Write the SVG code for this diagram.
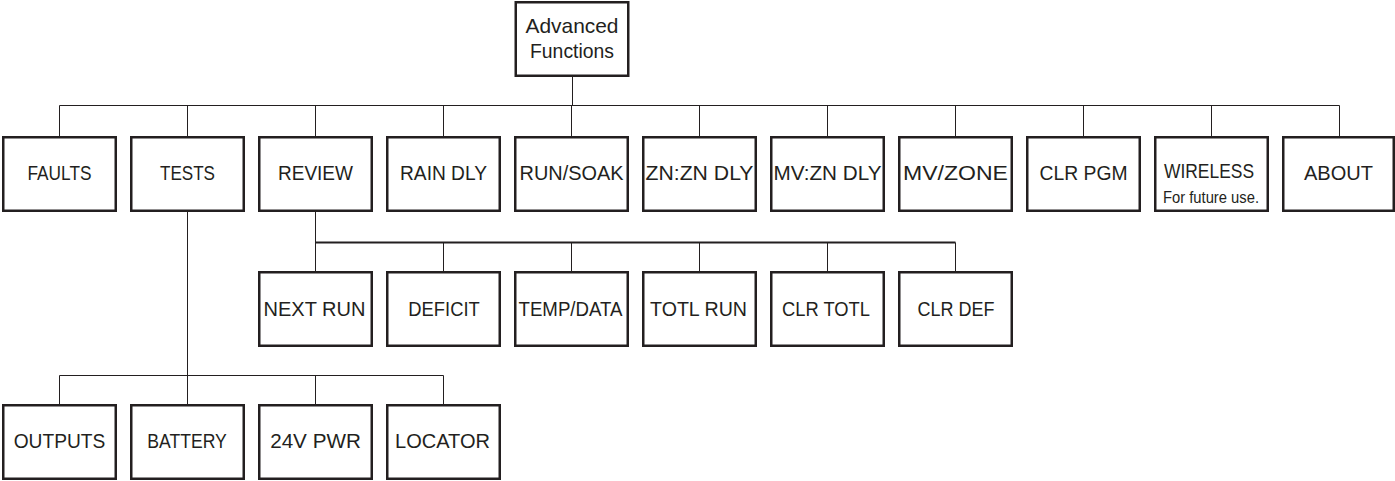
<svg xmlns="http://www.w3.org/2000/svg" width="1395" height="481" viewBox="0 0 1395 481">
<style>
.box{fill:#fff;stroke:#231f20;stroke-width:2.5}
.lbl{font-family:"Liberation Sans",Arial,sans-serif;font-size:21px;fill:#231f20;text-anchor:middle}
.sm{font-family:"Liberation Sans",Arial,sans-serif;font-size:16px;fill:#231f20;text-anchor:middle}
.ln{fill:none;stroke:#231f20;stroke-width:1}
.bus{fill:none;stroke:#231f20;stroke-width:2}
</style>
<rect width="1395" height="481" fill="#fff"/>
<g id="connectors">
<path class="ln" d="M572.5,77 V105.5 M59.5,105.5 H1339.5 M59.5,105.5 V136 M187.5,105.5 V136 M315.5,105.5 V136 M443.5,105.5 V136 M571.5,105.5 V136 M699.5,105.5 V136 M827.5,105.5 V136 M955.5,105.5 V136 M1083.5,105.5 V136 M1211.5,105.5 V136 M1339.5,105.5 V136"/>
<path class="ln" d="M187.5,212 V404 M59.5,375.5 H443.5 M59.5,375.5 V404 M315.5,375.5 V404 M443.5,375.5 V404"/>
<path class="ln" d="M315.5,212 V271 M443.5,242.5 V271 M571.5,242.5 V271 M699.5,242.5 V271 M827.5,242.5 V271 M955.5,242.5 V271"/>
<path class="bus" d="M315.5,242.5 H955.5"/>
</g>
<g id="advanced-functions"><rect class="box" x="515.75" y="2.25" width="112.5" height="73.5"/><text class="lbl" x="572" y="33.3" textLength="93" lengthAdjust="spacingAndGlyphs">Advanced</text><text class="lbl" x="572" y="57.7" textLength="84" lengthAdjust="spacingAndGlyphs">Functions</text></g>
<g id="faults"><rect class="box" x="3.25" y="137.25" width="112.5" height="73.5"/><text class="lbl" x="59.5" y="180" textLength="64" lengthAdjust="spacingAndGlyphs">FAULTS</text></g>
<g id="tests"><rect class="box" x="131.25" y="137.25" width="112.5" height="73.5"/><text class="lbl" x="187.5" y="180" textLength="55" lengthAdjust="spacingAndGlyphs">TESTS</text></g>
<g id="review"><rect class="box" x="259.25" y="137.25" width="112.5" height="73.5"/><text class="lbl" x="315.5" y="180" textLength="75" lengthAdjust="spacingAndGlyphs">REVIEW</text></g>
<g id="rain-dly"><rect class="box" x="387.25" y="137.25" width="112.5" height="73.5"/><text class="lbl" x="443.5" y="180" textLength="87" lengthAdjust="spacingAndGlyphs">RAIN DLY</text></g>
<g id="run-soak"><rect class="box" x="515.25" y="137.25" width="112.5" height="73.5"/><text class="lbl" x="571.5" y="180" textLength="104" lengthAdjust="spacingAndGlyphs">RUN/SOAK</text></g>
<g id="zn-zn-dly"><rect class="box" x="643.25" y="137.25" width="112.5" height="73.5"/><text class="lbl" x="699.5" y="180" textLength="108" lengthAdjust="spacingAndGlyphs">ZN:ZN DLY</text></g>
<g id="mv-zn-dly"><rect class="box" x="771.25" y="137.25" width="112.5" height="73.5"/><text class="lbl" x="827.5" y="180" textLength="108" lengthAdjust="spacingAndGlyphs">MV:ZN DLY</text></g>
<g id="mv-zone"><rect class="box" x="899.25" y="137.25" width="112.5" height="73.5"/><text class="lbl" x="955.5" y="180" textLength="105" lengthAdjust="spacingAndGlyphs">MV/ZONE</text></g>
<g id="clr-pgm"><rect class="box" x="1027.25" y="137.25" width="112.5" height="73.5"/><text class="lbl" x="1083.5" y="180" textLength="88" lengthAdjust="spacingAndGlyphs">CLR PGM</text></g>
<g id="wireless"><rect class="box" x="1155.25" y="137.25" width="112.5" height="73.5"/><text class="lbl" x="1209" y="178" textLength="90" lengthAdjust="spacingAndGlyphs">WIRELESS</text><text class="sm" x="1211" y="203" textLength="96" lengthAdjust="spacingAndGlyphs">For future use.</text></g>
<g id="about"><rect class="box" x="1283.25" y="137.25" width="110.5" height="73.5"/><text class="lbl" x="1338.5" y="180" textLength="69" lengthAdjust="spacingAndGlyphs">ABOUT</text></g>
<g id="next-run"><rect class="box" x="259.25" y="272.25" width="112.5" height="73.5"/><text class="lbl" x="314.5" y="316" textLength="102" lengthAdjust="spacingAndGlyphs">NEXT RUN</text></g>
<g id="deficit"><rect class="box" x="387.25" y="272.25" width="112.5" height="73.5"/><text class="lbl" x="444" y="316" textLength="71.5" lengthAdjust="spacingAndGlyphs">DEFICIT</text></g>
<g id="temp-data"><rect class="box" x="515.25" y="272.25" width="112.5" height="73.5"/><text class="lbl" x="570.5" y="316" textLength="104" lengthAdjust="spacingAndGlyphs">TEMP/DATA</text></g>
<g id="totl-run"><rect class="box" x="643.25" y="272.25" width="112.5" height="73.5"/><text class="lbl" x="698.5" y="316" textLength="97" lengthAdjust="spacingAndGlyphs">TOTL RUN</text></g>
<g id="clr-totl"><rect class="box" x="771.25" y="272.25" width="112.5" height="73.5"/><text class="lbl" x="826" y="316" textLength="88" lengthAdjust="spacingAndGlyphs">CLR TOTL</text></g>
<g id="clr-def"><rect class="box" x="899.25" y="272.25" width="112.5" height="73.5"/><text class="lbl" x="956" y="316" textLength="77" lengthAdjust="spacingAndGlyphs">CLR DEF</text></g>
<g id="outputs"><rect class="box" x="3.25" y="405.25" width="112.5" height="73.5"/><text class="lbl" x="59.5" y="448.3" textLength="91.6" lengthAdjust="spacingAndGlyphs">OUTPUTS</text></g>
<g id="battery"><rect class="box" x="131.25" y="405.25" width="112.5" height="73.5"/><text class="lbl" x="187" y="448.3" textLength="79.5" lengthAdjust="spacingAndGlyphs">BATTERY</text></g>
<g id="24v-pwr"><rect class="box" x="259.25" y="405.25" width="112.5" height="73.5"/><text class="lbl" x="315.5" y="448.3" textLength="90.7" lengthAdjust="spacingAndGlyphs">24V PWR</text></g>
<g id="locator"><rect class="box" x="387.25" y="405.25" width="112.5" height="73.5"/><text class="lbl" x="442.5" y="448.3" textLength="95" lengthAdjust="spacingAndGlyphs">LOCATOR</text></g>
</svg>
